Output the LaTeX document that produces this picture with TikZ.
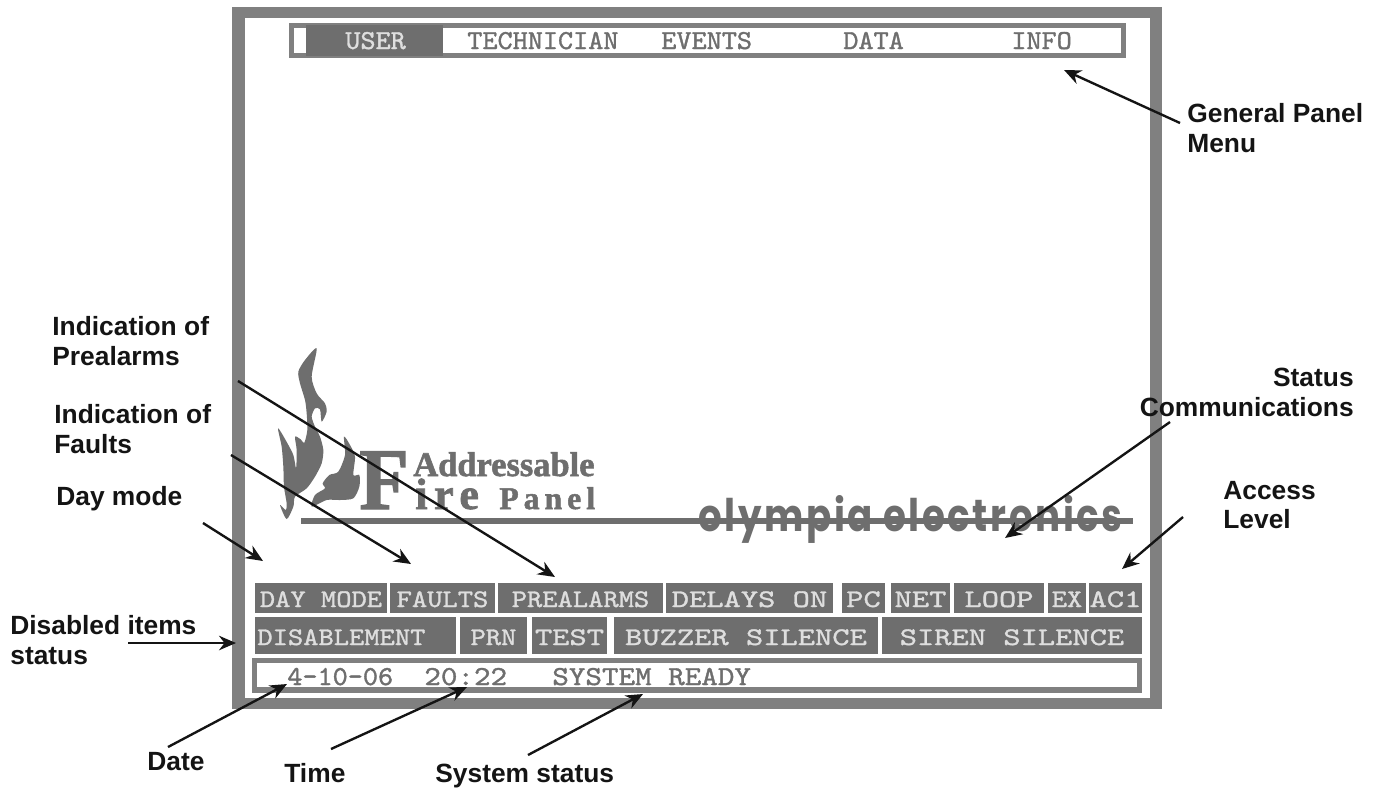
\documentclass[tikz,border=0pt]{standalone}
\usepackage{graphicx}
\usepackage{fontspec}
\setmainfont{Liberation Sans}
\newfontfamily\menufont{lmmono10-regular.otf}[FakeStretch=1.05,FakeBold=1.3]
\newfontfamily\panelfont{lmmono10-regular.otf}[FakeStretch=1.15,FakeBold=1.3]
\newfontfamily\widefont{lmmono10-regular.otf}[FakeStretch=1.3,FakeBold=1.3]
\newfontfamily\logofont{Liberation Serif}[FakeBold=1.6]
\newfontfamily\roundfont{Poppins}[LetterSpace=7]
\usetikzlibrary{arrows.meta}
\definecolor{framegray}{HTML}{808080}
\definecolor{btngray}{HTML}{6E6E6E}
\definecolor{btntext}{HTML}{DEDEDE}
\definecolor{inkblack}{HTML}{141414}
\tikzset{
	btn/.style={fill=btngray,text=btntext,inner sep=0,outer sep=0},
	rowa/.style={btn,minimum height=6mm,text height=3.6mm,text depth=0},
	rowb/.style={btn,minimum height=7.4mm,text height=3.8mm,text depth=0},
	screentext/.style={inner sep=0,anchor=base west,text=btngray,font=\fontsize{15.6}{16}\menufont},
	statustext/.style={screentext,font=\fontsize{15.6}{16}\panelfont},
	callout/.style={inner sep=0,anchor=west,align=left,text=inkblack,font=\fontsize{15}{17}\selectfont\bfseries},
	onecallout/.style={callout,anchor=base west},
	pointer/.style={-{Stealth[length=3.4mm,width=2.9mm]},inkblack,line width=1.35pt},
	logotext/.style={inner sep=0,anchor=base west,text=btngray}
}
\begin{document}
\begin{tikzpicture}[x=0.2mm,y=-0.2mm]
	\useasboundingbox (0,0) rectangle (1382,787);
	%outer frame
	\fill[framegray] (232,7) rectangle (1162,709);
	\fill[white] (245,18) rectangle (1150,698);
	%menu bar
	\fill[framegray] (289,23) rectangle (1126,58);
	\fill[white] (294,28) rectangle (1121,53);
	\fill[btngray] (306,25) rectangle (443,56);
	\node[screentext,text=btntext] (user) at (345,49) {USER};
	\node[screentext] (technician) at (467,49) {TECHNICIAN};
	\node[screentext] (events) at (661,49) {EVENTS};
	\node[screentext] (data) at (843,49) {DATA};
	\node[screentext] (info) at (1011,49) {INFO};
	%flames
	\begin{scope}[shift={(270,340)},scale=1/3]
		\fill[btngray] plot[smooth cycle,tension=0.45] coordinates {(140,25) (105,60) (85,95) (90,130) (105,180) (110,220) (112,270) (103,308) (92,298) (75,290) (80,330) (78,385) (68,340) (25,265) (35,320) (40,380) (42,440) (50,490) (47,510) (30,495) (50,537) (70,500) (75,470) (110,445) (135,410) (155,370) (160,330) (150,290) (135,260) (125,230) (135,205) (150,208) (155,245) (170,215) (165,190) (140,160) (125,110)};
		\fill[btngray] plot[smooth cycle,tension=0.45] coordinates {(222,290) (240,315) (255,350) (250,405) (268,405) (268,440) (250,475) (210,480) (170,480) (125,500) (135,465) (165,445) (158,430) (178,405) (205,395) (225,345)};
	\end{scope}
	%logo lettering
	\node[logotext,font=\fontsize{50}{50}\logofont\bfseries] (bigf) at (359,509) {\scalebox{0.92}[1]{F}};
	\node[logotext,font=\fontsize{19.6}{20}\logofont\bfseries] (addressable) at (413,476) {Addressable};
	\node[logotext,font=\fontsize{25}{26}\logofont\bfseries] (ire) at (415,509) {\addfontfeature{LetterSpace=15}ire};
	\node[logotext,font=\fontsize{18}{20}\logofont\bfseries] (panel) at (499,509) {\addfontfeature{LetterSpace=16}Panel};
	\fill[btngray] (301,518) rectangle (1133,524);
	\node[logotext] (olympia) at (698,531) {\resizebox{84.8mm}{7.2mm}{\roundfont\bfseries olympia electronics}};
	%first row of buttons
	\foreach \nm/\xa/\xb/\txt/\fnt in {daymode/255/387/DAY MODE/\panelfont,faults/390/495/FAULTS/\panelfont,prealarms/498/663/PREALARMS/\panelfont,delays/666/833/DELAYS ON/\widefont,pc/842/885/PC/\widefont,net/891/950/NET/\widefont,loop/954/1044/LOOP/\widefont,ex/1048/1086/EX/\panelfont,ac/1089/1142/AC1/\widefont}
	\node[rowa,minimum width={(\xb-\xa)*0.2mm},font=\fontsize{14.4}{15}\fnt] (\nm) at ({(\xa+\xb)/2},598) {\txt};
	%second row of buttons
	\foreach \nm/\xa/\xb/\txt/\fnt in {disablement/255/456/DISABLEMENT\hspace{16pt}\null/\panelfont,prn/460/527/PRN/\panelfont,test/532/607/TEST/\widefont,buzzer/614/878/BUZZER SILENCE/\widefont,siren/882/1142/SIREN SILENCE/\widefont}
	\node[rowb,minimum width={(\xb-\xa)*0.2mm},font=\fontsize{14.4}{15}\fnt] (\nm) at ({(\xa+\xb)/2},635.5) {\txt};
	%status line
	\fill[framegray] (252,658) rectangle (1142,693);
	\fill[white] (257,663) rectangle (1137,687);
	\node[screentext] (date) at (287,685) {4-10-06};
	\node[statustext] (time) at (424,685) {20:22};
	\node[statustext] (system) at (552,685) {SYSTEM READY};
	%labels
	\node[callout] (lblmenu) at (1187,128) {General Panel\\Menu};
	\node[callout] (lblpre) at (52,341) {Indication of\\Prealarms};
	\node[callout] (lblfaults) at (54,429) {Indication of\\Faults};
	\node[onecallout] (lblday) at (56,505) {Day mode};
	\node[callout] (lbldis) at (10,640) {Disabled items\\status};
	\node[onecallout] (lbldate) at (147,770) {Date};
	\node[onecallout] (lbltime) at (284,782) {Time};
	\node[onecallout] (lblsys) at (435,782) {System status};
	\node[callout,anchor=east,align=right] (lblcom) at (1354,392) {Status\\Communications};
	\node[callout] (lblacc) at (1223,505) {Access\\Level};
	%arrows
	\foreach \nm/\xa/\ya/\xb/\yb in {menu/1180/123/1064/70,pre/238/381/555/577,faults/231/455/411/564,day/203/523/263/561,dis/128/643/236/643,date/168/747/287/684,time/331/749/467/687,sys/528/755/643/694,com/1170/422/1005/538,acc/1183/517/1122/569}
	{
		\coordinate (\nm from) at (\xa,\ya);
		\coordinate (\nm to) at (\xb,\yb);
		\draw[pointer] (\nm from)--(\nm to);
	}
\end{tikzpicture}
\end{document}
